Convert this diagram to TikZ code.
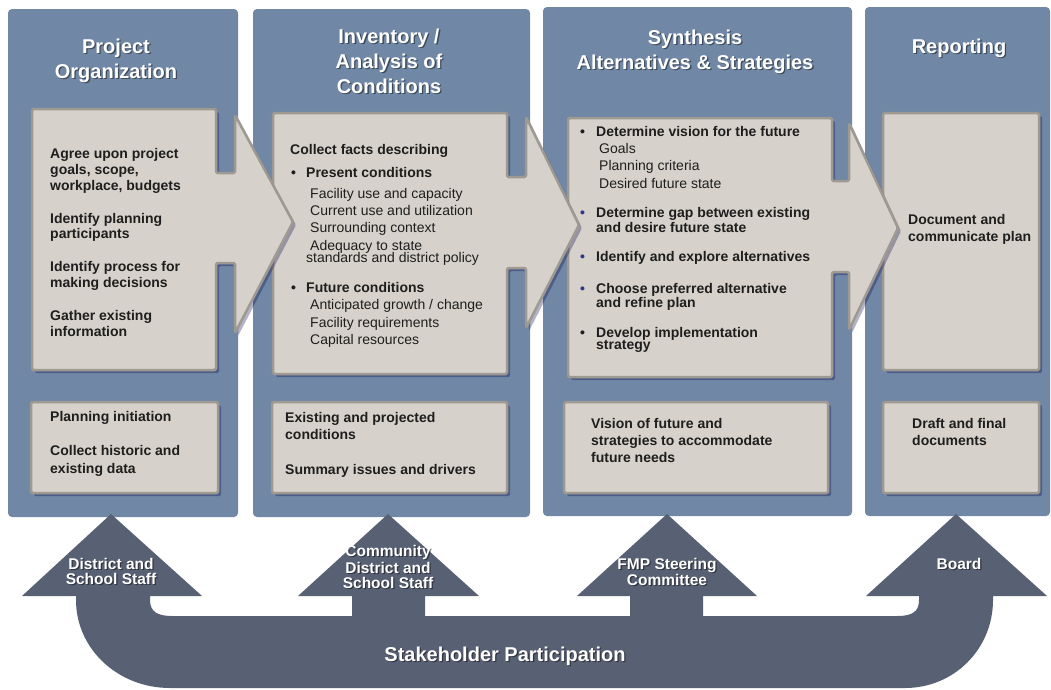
\documentclass[tikz,border=0pt]{standalone}
\usepackage{fontspec}
\setmainfont{Liberation Sans}
\usetikzlibrary{shadows}
\definecolor{panel}{RGB}{112,136,165}
\definecolor{boxfill}{RGB}{214,210,203}
\definecolor{boxline}{RGB}{158,153,145}
\definecolor{stake}{RGB}{88,96,115}
\definecolor{ink}{RGB}{30,30,30}
\definecolor{bul}{RGB}{45,55,140}
\tikzset{
 panelbox/.style={fill=panel, rounded corners=4pt},
 graybox/.style={fill=boxfill, draw=boxline, line width=2.5pt, line join=round, rounded corners=1.5pt,
   drop shadow={shadow xshift=3pt, shadow yshift=-3pt, opacity=.3, fill=black!70!blue}},
 bt/.style={font=\bfseries\fontsize{14}{16}\selectfont, text=ink, inner sep=0pt, anchor=base west},
 rt/.style={font=\fontsize{14}{16}\selectfont, text=ink, inner sep=0pt, anchor=base west},
 tt/.style={font=\bfseries\fontsize{20}{24}\selectfont, inner sep=0pt, anchor=base},
 lt/.style={font=\bfseries\fontsize{15.5}{16}\selectfont, inner sep=0pt, anchor=base},
}
% white text with a soft dark shadow
\newcommand\wtext[5]{%
  \node[#1, text=black, text opacity=.45, xshift=1.3pt, yshift=-1.3pt] (#2s) at (#3,#4) {#5};
  \node[#1, text=white] (#2) at (#3,#4) {#5};}
\begin{document}
\begin{tikzpicture}[x=1pt,y=-1pt]
\useasboundingbox (0,0) rectangle (1051,689);
\fill[white] (0,0) rectangle (1051,689);
% panels
\fill[panelbox] (8,9) rectangle (238,517);
\fill[panelbox] (253,9) rectangle (530,517);
\fill[panelbox] (543,7) rectangle (852,516);
\fill[panelbox] (865,7) rectangle (1050,516);
% titles
\wtext{tt}{t1a}{116}{53}{Project}
\wtext{tt}{t1b}{116}{78}{Organization}
\wtext{tt}{t2a}{389}{43}{Inventory /}
\wtext{tt}{t2b}{389}{68}{Analysis of}
\wtext{tt}{t2c}{389}{93}{Conditions}
\wtext{tt}{t3a}{695}{44}{Synthesis}
\wtext{tt}{t3b}{695}{69}{Alternatives \& Strategies}
\wtext{tt}{t4a}{959}{53}{Reporting}
% main boxes (drawn right to left so each arrow lies over the next box)
\path[graybox] (883,113) rectangle (1039,370);
\path[graybox] (568,118) -- (832,118) -- (832,181) -- (849,181) -- (849,123) -- (898,228)
   -- (849,330) -- (849,272) -- (832,272) -- (832,377) -- (568,377) -- cycle;
\path[graybox] (273,113) -- (507,113) -- (507,177) -- (526,177) -- (526,117) -- (579,225)
   -- (526,328) -- (526,268) -- (507,268) -- (507,374) -- (273,374) -- cycle;
\path[graybox] (32,109) -- (216,109) -- (216,173) -- (235,173) -- (235,115) -- (293,222)
   -- (235,333) -- (235,263) -- (216,263) -- (216,370) -- (32,370) -- cycle;
% bottom boxes
\path[graybox] (31,402) rectangle (218,493);
\path[graybox] (272,402) rectangle (507,493);
\path[graybox] (564,402) rectangle (828,493);
\path[graybox] (883,402) rectangle (1039,493);
% box 1 text
\node[bt] (a1) at (50,158) {Agree upon project};
\node[bt] (a2) at (50,174) {goals, scope,};
\node[bt] (a3) at (50,190) {workplace, budgets};
\node[bt] (a4) at (50,223) {Identify planning};
\node[bt] (a5) at (50,238) {participants};
\node[bt] (a6) at (50,271) {Identify process for};
\node[bt] (a7) at (50,287) {making decisions};
\node[bt] (a8) at (50,320) {Gather existing};
\node[bt] (a9) at (50,336) {information};
\node[bt] (p1) at (50,421) {Planning initiation};
\node[bt] (p2) at (50,455) {Collect historic and};
\node[bt] (p3) at (50,473) {existing data};
% box 2 text
\node[bt] (b1) at (290,154) {Collect facts describing};
\node[bt] (b2d) at (291,177) {•};
\node[bt] (b2) at (306,177) {Present conditions};
\node[rt] (b3) at (310,198) {Facility use and capacity};
\node[rt] (b4) at (310,215) {Current use and utilization};
\node[rt] (b5) at (310,232) {Surrounding context};
\node[rt] (b6) at (310,250) {Adequacy to state};
\node[rt] (b7) at (306,262) {standards and district policy};
\node[bt] (b8d) at (291,292) {•};
\node[bt] (b8) at (306,292) {Future conditions};
\node[rt] (b9) at (310,309) {Anticipated growth / change};
\node[rt] (b10) at (310,327) {Facility requirements};
\node[rt] (b11) at (310,344) {Capital resources};
\node[bt] (q1) at (285,422) {Existing and projected};
\node[bt] (q2) at (285,439) {conditions};
\node[bt] (q3) at (285,474) {Summary issues and drivers};
% box 3 text
\node[bt] (c1d) at (580,136) {•};
\node[bt] (c1) at (596,136) {Determine vision for the future};
\node[rt] (c2) at (599,153) {Goals};
\node[rt] (c3) at (599,170) {Planning criteria};
\node[rt] (c4) at (599,188) {Desired future state};
\node[bt, text=bul] (c5d) at (580,217) {•};
\node[bt] (c5) at (596,217) {Determine gap between existing};
\node[bt] (c6) at (596,232) {and desire future state};
\node[bt, text=bul] (c7d) at (580,261) {•};
\node[bt] (c7) at (596,261) {Identify and explore alternatives};
\node[bt, text=bul] (c8d) at (580,293) {•};
\node[bt] (c8) at (596,293) {Choose preferred alternative};
\node[bt] (c9) at (596,307) {and refine plan};
\node[bt] (c10d) at (580,337) {•};
\node[bt] (c10) at (596,337) {Develop implementation};
\node[bt] (c11) at (596,349) {strategy};
\node[bt] (r1) at (591,428) {Vision of future and};
\node[bt] (r2) at (591,445) {strategies to accommodate};
\node[bt] (r3) at (591,462) {future needs};
% box 4 text
\node[bt] (d1) at (908,224) {Document and};
\node[bt] (d2) at (908,241) {communicate plan};
\node[bt] (s1) at (912,428) {Draft and final};
\node[bt] (s2) at (912,445) {documents};
% stakeholder arrow
\fill[stake] (111,514) -- (202,596) -- (150,596) -- (150,600) .. controls (150,612) and (158,616) .. (172,616)
  -- (352,616) -- (352,596) -- (298,596) -- (388,514) -- (479,596) -- (425,596) -- (425,616)
  -- (630,616) -- (630,596) -- (577,596) -- (667,514) -- (757,596) -- (703,596) -- (703,616)
  -- (897,616) .. controls (912,616) and (919,612) .. (919,600) -- (919,596) -- (866,596)
  -- (956,514) -- (1047,596) -- (993,596) -- (993,600) .. controls (993,649) and (954,688) .. (905,688)
  -- (170,688) .. controls (118,688) and (76,649) .. (76,600) -- (76,596) -- (22,596) -- cycle;
\wtext{lt}{u1a}{111}{569.5}{District and}
\wtext{lt}{u1b}{111}{584.5}{School Staff}
\wtext{lt}{u2a}{388}{556}{Community}
\wtext{lt}{u2b}{388}{573}{District and}
\wtext{lt}{u2c}{388}{588}{School Staff}
\wtext{lt}{u3a}{667}{569}{FMP Steering}
\wtext{lt}{u3b}{667}{585}{Committee}
\wtext{lt}{u4a}{959}{569}{Board}
\wtext{tt}{sp}{505}{661}{Stakeholder Participation}
\end{tikzpicture}
\end{document}
